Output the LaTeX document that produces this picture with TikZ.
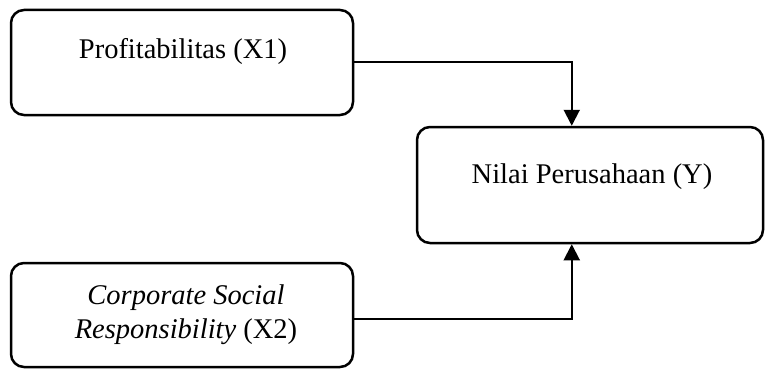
\documentclass[tikz,border=0pt]{standalone}
\usepackage{fontspec}
\setmainfont{Liberation Serif}
\usetikzlibrary{arrows.meta,calc}
\begin{document}
\begin{tikzpicture}[x=1pt,y=-1pt,
  box/.style={draw=black,line width=2.5pt,rounded corners=13pt,inner sep=0pt},
  conn/.style={draw=black,line width=2pt},
  arr/.style={-{Triangle[length=16pt,width=16pt]}},
  lbl/.style={anchor=base,inner sep=0pt,font=\fontsize{28.5}{34}\selectfont}]
\useasboundingbox (0,0) rectangle (765,369);
\node[box,minimum width=342pt,minimum height=105pt] (x1) at (182,62.5) {};
\node[box,minimum width=346pt,minimum height=116pt] (y) at (590,185) {};
\node[box,minimum width=342pt,minimum height=104pt] (x2) at (182,315) {};
\node[lbl] (t1) at (183,59) {Profitabilitas (X1)};
\node[lbl] (ty) at (592,183) {Nilai Perusahaan (Y)};
\node[lbl] (t2a) at (186,304) {\textit{Corporate Social}};
\node[lbl] (t2b) at (186,338) {\textit{Responsibility} (X2)};
\draw[conn,arr] (x1.east) -| ([xshift=156pt]y.north west);
\draw[conn,arr] ([yshift=-4pt]x2.east) -| ([xshift=156pt]y.south west);
\end{tikzpicture}
\end{document}
